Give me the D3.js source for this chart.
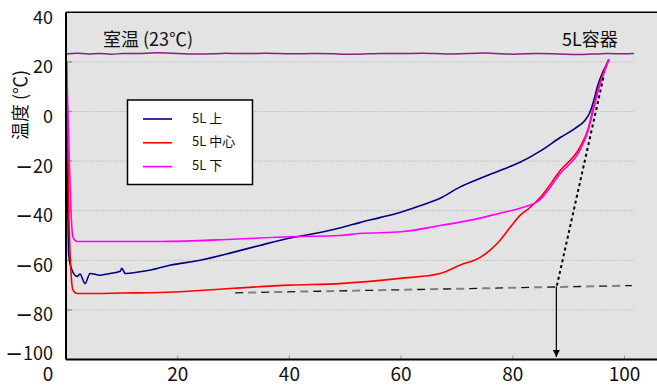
<!DOCTYPE html>
<html><head><meta charset="utf-8">
<script src="https://cdn.jsdelivr.net/npm/d3@7/dist/d3.min.js"></script>
<style>body{margin:0;background:#fff}svg{display:block}</style>
</head><body>
<svg id="c" width="657" height="385"></svg>
<script>
// ---- data ----
const xTicks = [0, 20, 40, 60, 80, 100];
const yTicks = [40, 20, 0, -20, -40, -60, -80, -100];
const gridValues = [20, 0, -20, -40, -60, -80];
const seriesNames = ["5L 上", "5L 中心", "5L 下"];
const seriesColors = ["#000080", "#ff0000", "#ff00ff"];
const roomLabel = "室温 (23℃)";
const containerLabel = "5L容器";
const yTitle = "温度 (℃)";

const topData = [[0.1,5],[0.5,-58],[1.0,-63.5],[2.0,-66.5],[2.5,-65.5],[3.4,-69.4],[4.3,-65.3],[6.1,-66],[7.9,-65.3],[9.7,-64.4],[10.0,-63.2],[10.6,-65.3],[15,-64],[18.6,-62],[24,-60],[29.9,-56.8],[34.7,-54],[40.6,-50.8],[45.5,-48.8],[49,-47],[52.6,-44.8],[56.2,-42.8],[59.8,-40.7],[63.4,-38],[67,-35],[70.5,-30.5],[74.1,-27],[77.7,-23.8],[81.3,-20.5],[84.9,-16],[88.5,-10.5],[91.1,-6.9],[92.9,-3.6],[93.8,-0.4],[94.5,4.4],[95.1,9.7],[96,15.3],[96.9,19.4],[97.2,21]];
const centerData = [[0.1,20],[0.5,-40],[0.9,-65],[1.25,-72],[2.0,-73.4],[5,-73.4],[10,-73.2],[16.8,-73],[24,-72.2],[30,-71.3],[40,-70],[49,-69.4],[59.8,-67.3],[67,-65.3],[70.5,-62],[74.1,-58.9],[75.9,-56],[77.7,-52],[79.5,-46.8],[81.3,-41.9],[83.1,-38.7],[84.9,-34.7],[88.5,-23.8],[92,-14.5],[93.5,-6.9],[94.4,1.2],[95.3,9.3],[96.5,17.3],[97.2,21]];
const bottomData = [[0.1,20],[0.6,-20],[1.0,-45],[1.3,-51],[2,-52.4],[5,-52.4],[16.8,-52.4],[30,-51.5],[40,-50.5],[49,-50],[52.6,-49.2],[60,-48.5],[67,-46],[74.1,-43],[77.7,-41],[81.3,-39],[84.9,-35.5],[88.5,-25],[92,-15.7],[93.5,-7.7],[94.4,0.4],[95.3,8.5],[96.5,16.5],[97.2,21]];
const roomTime = [0,2,4,6,8,10,13,16,20,24,28,32,36,40,44,48,52,56,60,64,68,72,76,80,84,88,92,96,100,101.7];
const roomValues = [23.2,23.7,23.0,23.6,22.9,23.5,23.3,23.8,23.4,23.0,23.6,23.2,23.7,23.1,23.5,23.3,22.9,23.6,23.2,23.7,23.0,23.4,23.7,22.9,23.5,23.2,22.8,23.5,23.2,23.4];
const tangentLine = [[87.9,-70.2],[96.3,14.5]];
const baseLine = [[30.3,-73.1],[101.3,-70.2]];
const arrowLine = [[87.8,-70.6],[87.8,-99]];

// ---- layout ----
const svg = d3.select("#c");
const W = 657, H = 385;
const x = d3.scaleLinear().domain([0, 100]).range([66, 624.5]);
const y = d3.scaleLinear().domain([-100, 40]).range([359.5, 12.3]);
const font = "'Noto Sans CJK JP', 'Noto Sans', sans-serif";

// plot background
svg.append("rect").attr("x", x(0)).attr("y", y(40)).attr("width", W - x(0)).attr("height", y(-100) - y(40)).attr("fill", "#e3e3e3");

// gridlines
svg.append("g").selectAll("line").data(gridValues).join("line")
  .attr("x1", x(0)).attr("x2", x(101.7)).attr("y1", d => y(d)).attr("y2", d => y(d))
  .attr("stroke", "#b8b8b8").attr("stroke-width", 1).attr("stroke-dasharray", "1.5,1.5");

// inner ticks
svg.append("g").selectAll("line").data(gridValues).join("line")
  .attr("x1", x(0)).attr("x2", x(0) + 6).attr("y1", d => y(d)).attr("y2", d => y(d))
  .attr("stroke", "#9a9a9a").attr("stroke-width", 1.5);
svg.append("g").selectAll("line").data(xTicks.slice(1)).join("line")
  .attr("x1", d => x(d)).attr("x2", d => x(d)).attr("y1", y(-100)).attr("y2", y(-100) - 4)
  .attr("stroke", "#9a9a9a").attr("stroke-width", 1);

// room temperature line
svg.append("path").datum(roomTime.map((t, i) => [t, roomValues[i]]))
  .attr("d", d3.line().x(d => x(d[0])).y(d => y(d[1])).curve(d3.curveBasis))
  .attr("fill", "none").attr("stroke", "#8b1a8b").attr("stroke-width", 1.5);

// base dashed line (alternating black / grey dashes)
const lin = d3.line().x(d => x(d[0])).y(d => y(d[1]));
svg.append("path").datum(baseLine).attr("d", lin).attr("fill", "none")
  .attr("stroke", "#808080").attr("stroke-width", 2).attr("stroke-dasharray", "8,18").attr("stroke-dashoffset", -13);
svg.append("path").datum(baseLine).attr("d", lin).attr("fill", "none")
  .attr("stroke", "#111").attr("stroke-width", 1.3).attr("stroke-dasharray", "8,18");

// series
const seriesData = [topData, centerData, bottomData];
const lineS = d3.line().x(d => x(d[0])).y(d => y(d[1])).curve(d3.curveMonotoneX);
seriesData.forEach((data, i) => {
  svg.append("path").datum(data).attr("d", lineS).attr("fill", "none")
    .attr("stroke", seriesColors[i]).attr("stroke-width", 1.6).attr("stroke-linejoin", "round");
});

// tangent dotted line
svg.append("path").datum(tangentLine).attr("d", lin).attr("fill", "none")
  .attr("stroke", "#000").attr("stroke-width", 2).attr("stroke-dasharray", "3,3");

// arrow
svg.append("defs").append("marker").attr("id", "arr").attr("viewBox", "0 0 10 10")
  .attr("refX", 10).attr("refY", 5).attr("markerWidth", 7).attr("markerHeight", 7)
  .attr("markerUnits", "userSpaceOnUse").attr("orient", "auto")
  .append("path").attr("d", "M0,0 L10,5 L0,10 Z").attr("fill", "#000");
svg.append("path").datum(arrowLine).attr("d", lin).attr("fill", "none")
  .attr("stroke", "#000").attr("stroke-width", 1.2).attr("marker-end", "url(#arr)");

// frame: left axis, bottom axis, top border
svg.append("line").attr("x1", x(0)).attr("x2", W).attr("y1", y(40)).attr("y2", y(40)).attr("stroke", "#000").attr("stroke-width", 1.5);
svg.append("line").attr("x1", x(0)).attr("x2", W).attr("y1", y(-100)).attr("y2", y(-100)).attr("stroke", "#000").attr("stroke-width", 2);
svg.append("line").attr("x1", x(0)).attr("x2", x(0)).attr("y1", y(40)).attr("y2", y(-100)).attr("stroke", "#000").attr("stroke-width", 2);

// y tick labels (long minus sign like the reference)
const yl = svg.append("g").selectAll("text").data(yTicks).join("text")
  .attr("x", 53).attr("y", d => y(d) + (d === -100 ? -5 : 6.5))
  .attr("dominant-baseline", "middle").attr("text-anchor", "end")
  .attr("font-family", font).attr("font-size", 18).attr("fill", "#111");
yl.filter(d => d < 0).append("tspan").attr("font-family", "'DejaVu Sans', sans-serif")
  .attr("font-size", 21).text("\u2212");
yl.append("tspan").text(d => String(Math.abs(d)));

// x tick labels
svg.append("g").selectAll("text").data(xTicks).join("text")
  .attr("x", d => x(d) + (d === 0 ? -18 : 0)).attr("y", 375.5)
  .attr("dominant-baseline", "middle").attr("text-anchor", "middle")
  .attr("font-family", font).attr("font-size", 19).attr("fill", "#111")
  .text(d => d);

// y title
svg.append("text").attr("transform", "translate(27,105) rotate(-90)")
  .attr("text-anchor", "middle").attr("font-family", font).attr("font-size", 18).attr("fill", "#111")
  .text(yTitle);

// annotations
svg.append("text").attr("x", 103).attr("y", 46).attr("font-family", font).attr("font-size", 18).attr("fill", "#111").text(roomLabel);
svg.append("text").attr("x", 562).attr("y", 46).attr("font-family", font).attr("font-size", 18).attr("fill", "#111").text(containerLabel);

// legend
const lg = svg.append("g");
lg.append("rect").attr("x", 127.5).attr("y", 100).attr("width", 125).attr("height", 84.5)
  .attr("fill", "#fff").attr("stroke", "#000").attr("stroke-width", 1.5);
seriesNames.forEach((n, i) => {
  const yy = 119 + i * 23.8;
  lg.append("line").attr("x1", 143).attr("x2", 172).attr("y1", yy).attr("y2", yy)
    .attr("stroke", seriesColors[i]).attr("stroke-width", 1.6);
  lg.append("text").attr("x", 192).attr("y", yy).attr("dominant-baseline", "middle")
    .attr("font-family", font).attr("font-size", 13).attr("fill", "#111").text(n);
});
</script>
</body></html>
